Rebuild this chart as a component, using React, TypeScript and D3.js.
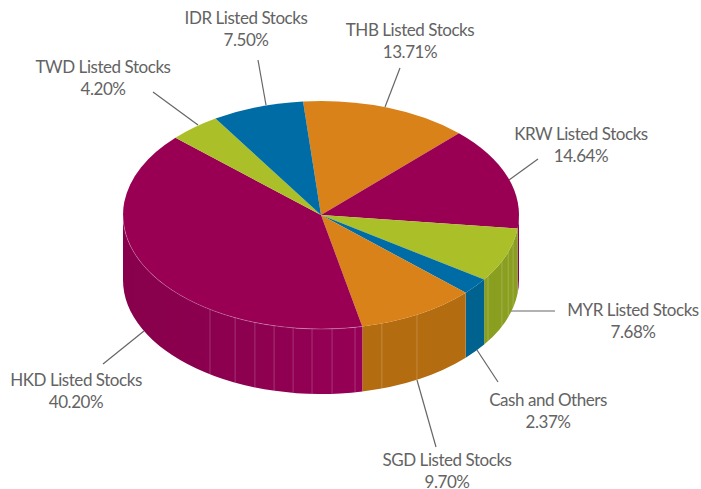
import React from "react";
import * as d3 from "d3";

const categories = ["THB Listed Stocks","KRW Listed Stocks","MYR Listed Stocks","Cash and Others","SGD Listed Stocks","HKD Listed Stocks","TWD Listed Stocks","IDR Listed Stocks"];
const values = [13.71,14.64,7.68,2.37,9.70,40.20,4.20,7.50];
const topColors = ["#d9821a","#990053","#aabf28","#006ca6","#d9821a","#990053","#aabf28","#006ca6"];
const sideColors = ["#b46c10","#8e0052","#8a9e20","#00628f","#b46c10","url(#hkdSide)","#8a9e20","#00628f"];
const labelPos: [number,number][] = [[410,36],[581,140],[633,316],[548,406],[447,466],[76,386],[103,73],[246,24]];
const leaders: [number,number,number,number][] = [[385,107,400,68],[509,180,538,159],[510,311,555,311],[477,350,498,382],[417,380,436,447],[144,331,103,364],[198,125,153,92],[266,105,258,60]];
const facetDegrees = [104,109,114,122.5,151,162.1,170.1,176.8,182.6,188.1,193.7,199.5,205.7,214.1];

const W = 701, H = 489, cx = 321, cy = 215, rx = 198, ry = 114, depth = 65;
const START = (-5.2 * Math.PI) / 180;
const pie = d3.pie<number>().sort(null).startAngle(START).endAngle(START + 2 * Math.PI);
const px = (a: number) => cx + rx * Math.sin(a);
const py = (a: number) => cy - ry * Math.cos(a);
const rad = (d: number) => (d * Math.PI) / 180;

function sidePath(a0: number, a1: number) {
  const lo = Math.max(a0, Math.PI / 2), hi = Math.min(a1, 1.5 * Math.PI);
  if (hi <= lo) return null;
  const large = hi - lo > Math.PI ? 1 : 0;
  return `M${px(lo)},${py(lo)}A${rx},${ry} 0 ${large} 1 ${px(hi)},${py(hi)}L${px(hi)},${py(hi) + depth}A${rx},${ry} 0 ${large} 0 ${px(lo)},${py(lo) + depth}Z`;
}

export default function App() {
  const arcs = pie(values);
  const arc = d3.arc<d3.PieArcDatum<number>>().innerRadius(0).outerRadius(rx);
  const hkd = arcs[5];
  const rimLo = hkd.startAngle, rimHi = Math.min(hkd.endAngle, 1.5 * Math.PI);
  return (
    <svg width={W} height={H} style={{ position: "absolute", left: 0, top: 0, background: "#fff" }}>
      <defs>
        <linearGradient id="hkdSide" x1="0" x2="1" y1="0" y2="0">
          <stop offset="0" stopColor="#88004c" />
          <stop offset="0.45" stopColor="#8c004f" />
          <stop offset="1" stopColor="#960056" />
        </linearGradient>
      </defs>
      {leaders.map((l, i) => <line key={i} x1={l[0]} y1={l[1]} x2={l[2]} y2={l[3]} stroke="#666" strokeWidth={1.2} />)}
      {arcs.map((d, i) => {
        const p = sidePath(d.startAngle, d.endAngle);
        return p ? <path key={i} d={p} fill={sideColors[i]} /> : null;
      })}
      {facetDegrees.map((deg, i) => (
        <line key={i} x1={px(rad(deg))} y1={py(rad(deg))} x2={px(rad(deg))} y2={py(rad(deg)) + depth} stroke="#fff" strokeOpacity={0.2} strokeWidth={1} />
      ))}
      <g transform={`translate(${cx},${cy}) scale(1,${ry / rx})`}>
        {arcs.map((d, i) => <path key={i} d={arc(d) as string} fill={topColors[i]} />)}
      </g>
      <path d={`M${px(rimLo)},${py(rimLo)}A${rx},${ry} 0 0 1 ${px(rimHi)},${py(rimHi)}`} fill="none" stroke="#fff" strokeOpacity={0.3} strokeWidth={0.8} />
      {categories.map((c, i) => (
        <text key={c} x={labelPos[i][0]} y={labelPos[i][1]} textAnchor="middle" fontFamily="Lato, 'Noto Sans', sans-serif" fontSize={17} letterSpacing={-0.45} fill="#636363">
          <tspan x={labelPos[i][0]}>{c}</tspan>
          <tspan x={labelPos[i][0]} dy={22}>{values[i].toFixed(2)}%</tspan>
        </text>
      ))}
    </svg>
  );
}
